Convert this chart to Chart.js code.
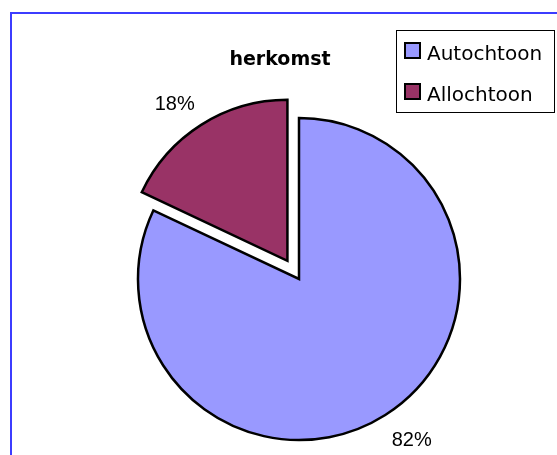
<!DOCTYPE html>
<html>
<head>
<meta charset="utf-8">
<script src="https://cdn.jsdelivr.net/npm/chart.js@4.4.1/dist/chart.umd.min.js"></script>
<style>
body{margin:0;background:#fff}
#wrap{position:relative;width:557px;height:455px;overflow:hidden}
#frame{position:absolute;left:10px;top:12px;width:600px;height:500px;border:2px solid #3c3cff}
canvas{position:absolute;left:0;top:0}
</style>
</head>
<body>
<div id="wrap">
<div id="frame"></div>
<canvas id="pie" width="557" height="455"></canvas>
</div>
<script>
// data
const labels=['Autochtoon','Allochtoon']
const values=[82,18]
const chartTitle='herkomst'

const colors=['#9999ff','#993366']
const explodeIndex=1
const explodeDist=21.6

// draw slices ourselves so the exploded one can be shifted without shrinking
const explodePlugin={
id:'explode',
beforeDatasetDraw(chart,args){
const ctx=chart.ctx
args.meta.data.forEach((arc,i)=>{
let d=i===explodeIndex?explodeDist:0
let mid=(arc.startAngle+arc.endAngle)/2
ctx.save()
ctx.translate(Math.cos(mid)*d,Math.sin(mid)*d)
arc.draw(ctx)
ctx.restore()
})
return false
}
}

// percentages outside the slices, title and boxed legend
const textPlugin={
id:'texts',
afterDraw(chart){
const ctx=chart.ctx
const meta=chart.getDatasetMeta(0)
const total=values.reduce((a,b)=>a+b,0)
ctx.save()
ctx.fillStyle='#000'
ctx.font='20px "Liberation Sans", Arial, sans-serif'
meta.data.forEach((arc,i)=>{
let d=i===explodeIndex?explodeDist:0
let mid=(arc.startAngle+arc.endAngle)/2
let cx=Math.cos(mid),cy=Math.sin(mid)
let r=arc.outerRadius+12+d
let x=arc.x+cx*r
let y=arc.y+cy*r
ctx.textAlign=cx<0?'right':'left'
ctx.textBaseline=cy<0?'bottom':'top'
if(cy>0) y+=5
ctx.fillText(Math.round(values[i]/total*100)+'%',x,y)
})

// title
ctx.font='bold 19px "DejaVu Sans", sans-serif'
ctx.textAlign='center'
ctx.textBaseline='alphabetic'
ctx.fillText(chartTitle,280,65)

// legend
ctx.lineWidth=1
ctx.strokeStyle='#000'
ctx.strokeRect(396.5,30.5,158,82)
ctx.font='20px "DejaVu Sans", sans-serif'
ctx.textAlign='left'
labels.forEach((lab,i)=>{
let y=43+i*41
ctx.fillStyle=colors[i]
ctx.fillRect(405,y,15,15)
ctx.lineWidth=2
ctx.strokeRect(405,y,15,15)
ctx.fillStyle='#000'
ctx.fillText(lab,427,y+17)
})
ctx.restore()
}
}

new Chart(document.getElementById('pie'),{
type:'pie',
data:{
labels:labels,
datasets:[{
data:values,
backgroundColor:colors,
borderColor:'#000',
borderWidth:2.5,
borderJoinStyle:'miter'
}]
},
options:{
responsive:false,
animation:false,
events:[],
radius:161,
layout:{padding:{left:41,right:0,top:103,bottom:0}},
plugins:{
legend:{display:false},
title:{display:false},
tooltip:{enabled:false}
}
},
plugins:[explodePlugin,textPlugin]
})
</script>
</body>
</html>
